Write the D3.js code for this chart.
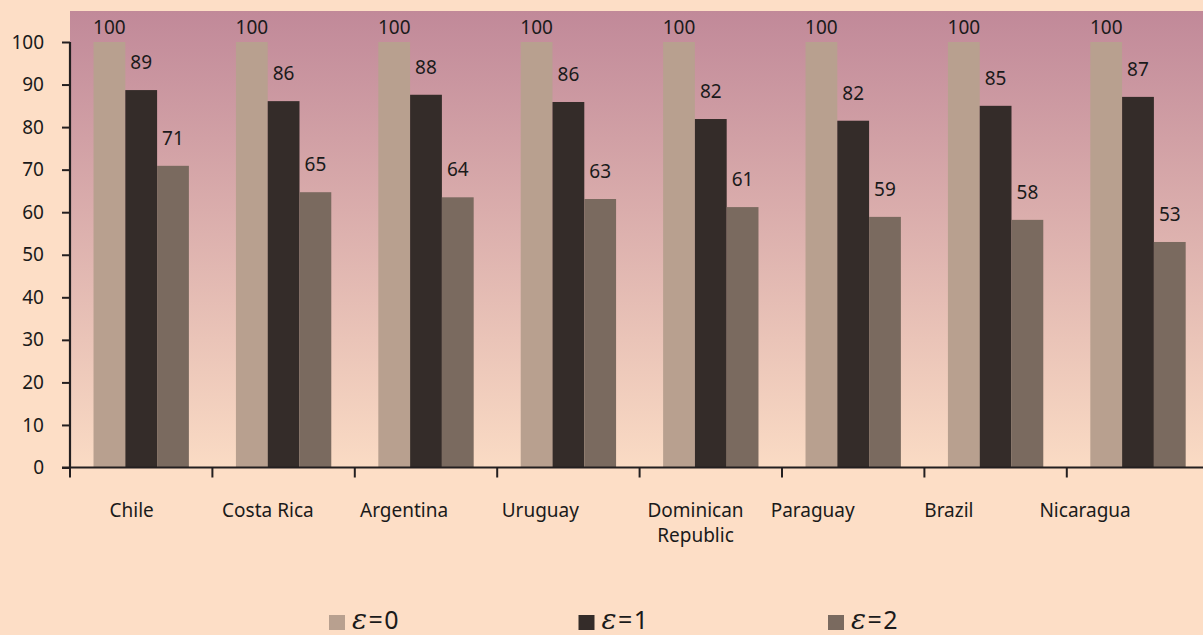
<!DOCTYPE html>
<html>
<head>
<meta charset="utf-8">
<script src="https://cdn.jsdelivr.net/npm/d3@7"></script>
<style>
  html, body { margin: 0; padding: 0; background: #FDDEC6; }
  svg { display: block; }
  text { font-family: "Noto Sans", "Open Sans", sans-serif; fill: #1a1a1a; }
</style>
</head>
<body>
<svg id="chart" width="1203" height="635"></svg>
<script>
// Relative welfare index by inequality-aversion parameter ε
const countries = ["Chile", "Costa Rica", "Argentina", "Uruguay", "Dominican Republic", "Paraguay", "Brazil", "Nicaragua"];
const seriesNames = ["ε=0", "ε=1", "ε=2"];
const eps0 = [100, 100, 100, 100, 100, 100, 100, 100];
const eps1 = [88.7, 86.1, 87.6, 85.9, 81.9, 81.5, 85.0, 87.1];
const eps2 = [70.9, 64.7, 63.5, 63.1, 61.2, 58.9, 58.2, 53.0];
const yTicks = [0, 10, 20, 30, 40, 50, 60, 70, 80, 90, 100];
const colors = ["#B8A08F", "#342C29", "#7A6A5F"];

const seriesValues = [eps0, eps1, eps2];

const svg = d3.select("#chart");
const W = 1203, H = 635;
const plotLeft = 70, plotTop = 11, plotBottom = 467.5;
const step = 142.4;
const fs = 19;

const x = d3.scaleBand()
  .domain(countries)
  .range([plotLeft, plotLeft + step * countries.length])
  .padding(0);

const xInner = d3.scaleBand()
  .domain(seriesNames)
  .range([0, x.bandwidth()])
  .paddingInner(0)
  .paddingOuter(0.74);

// category labels sit on a slightly tighter pitch than the bar groups
const xLabel = d3.scaleBand()
  .domain(countries)
  .range([63.6, 63.6 + 136.2 * countries.length]);
const labelNudge = { "Dominican Republic": 19 };

const y = d3.scaleLinear().domain([0, 100]).range([plotBottom, 42]);

// plot area gradient
const defs = svg.append("defs");
const grad = defs.append("linearGradient")
  .attr("id", "plotBg").attr("x1", 0).attr("y1", 0).attr("x2", 0).attr("y2", 1);
grad.append("stop").attr("offset", "0%").attr("stop-color", "#C18999");
grad.append("stop").attr("offset", "100%").attr("stop-color", "#FADBC4");

svg.append("rect")
  .attr("x", plotLeft).attr("y", plotTop)
  .attr("width", W - plotLeft).attr("height", plotBottom - plotTop)
  .attr("fill", "url(#plotBg)");

// bars
const groups = svg.append("g").selectAll("g")
  .data(countries)
  .join("g")
  .attr("transform", d => `translate(${x(d)},0)`);

groups.selectAll("rect")
  .data((c, i) => seriesNames.map((s, k) => ({ s, k, v: seriesValues[k][i] })))
  .join("rect")
  .attr("x", d => xInner(d.s))
  .attr("width", xInner.bandwidth())
  .attr("y", d => y(d.v))
  .attr("height", d => y(0) - y(d.v))
  .attr("fill", d => colors[d.k]);

// value labels
groups.selectAll("text.val")
  .data((c, i) => seriesNames.map((s, k) => ({ s, k, v: seriesValues[k][i] })))
  .join("text")
  .attr("class", "val")
  .attr("x", d => xInner(d.s) + xInner.bandwidth() / 2)
  .attr("y", d => Math.max(y(d.v) - 21, plotTop + 23))
  .attr("text-anchor", "middle")
  .attr("font-size", fs)
  .text(d => d3.format(".0f")(d.v));

// y axis
const yAxis = d3.axisLeft(y).tickValues(yTicks).tickSize(8).tickPadding(18).tickFormat(d3.format("d"));
const gy = svg.append("g").attr("transform", `translate(${plotLeft},0)`).call(yAxis);
gy.select(".domain").attr("d", `M0,${y(100)}V${y(0)}`).attr("stroke", "#231F20").attr("stroke-width", 2.2);
gy.selectAll(".tick line").attr("stroke", "#231F20").attr("stroke-width", 2);
gy.selectAll(".tick text").attr("font-size", fs).attr("fill", "#1a1a1a")
  .attr("font-family", "'Noto Sans', sans-serif");

// x axis line and category boundary ticks
svg.append("line")
  .attr("x1", plotLeft - 8).attr("x2", W)
  .attr("y1", y(0)).attr("y2", y(0))
  .attr("stroke", "#231F20").attr("stroke-width", 2.2);

const boundaries = countries.map(c => x(c));
svg.append("g").selectAll("line")
  .data(boundaries)
  .join("line")
  .attr("x1", d => d).attr("x2", d => d)
  .attr("y1", y(0)).attr("y2", y(0) + 10)
  .attr("stroke", "#231F20").attr("stroke-width", 2);

// category labels (wrapped onto two lines where needed)
const labelWrap = { "Dominican Republic": ["Dominican", "Republic"] };
const labelX = d => xLabel(d) + xLabel.bandwidth() / 2 + (labelNudge[d] || 0);
const xl = svg.append("g").selectAll("text")
  .data(countries)
  .join("text")
  .attr("x", labelX)
  .attr("y", 516.5)
  .attr("text-anchor", "middle")
  .attr("font-size", fs);
xl.each(function(d) {
  const lines = labelWrap[d] || [d];
  const t = d3.select(this);
  lines.forEach((ln, i) => {
    t.append("tspan").attr("x", labelX(d))
      .attr("dy", i === 0 ? 0 : 25).text(ln);
  });
});

// legend
const legendX = d3.scalePoint().domain(seriesNames).range([329, 828]);
const lg = svg.append("g").selectAll("g")
  .data(seriesNames)
  .join("g")
  .attr("transform", d => `translate(${legendX(d)},0)`);
lg.append("rect")
  .attr("x", 0).attr("y", 615).attr("width", 16).attr("height", 15)
  .attr("fill", (d, i) => colors[i]);
const lt = lg.append("text")
  .attr("x", 23).attr("y", 629)
  .attr("font-size", 25)
  .attr("letter-spacing", 1.5);
lt.append("tspan")
  .attr("font-family", "'DejaVu Serif', serif")
  .attr("font-style", "italic")
  .attr("font-size", 28)
  .text(d => d.split("=")[0]);
lt.append("tspan")
  .text(d => "=" + d.split("=")[1]);
</script>
</body>
</html>
